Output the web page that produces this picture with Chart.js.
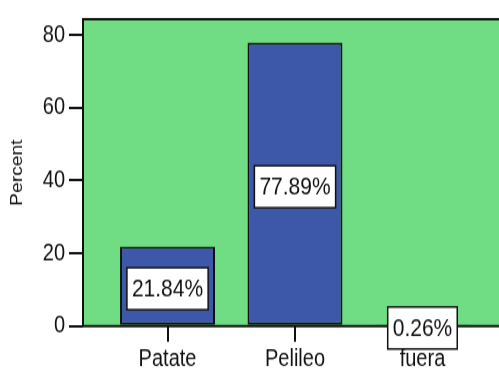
<!DOCTYPE html>
<html>
<head>
<meta charset="utf-8">
<script src="https://cdn.jsdelivr.net/npm/chart.js@4"></script>
<style>
  html { margin: 0; padding: 0; overflow: hidden; background: #ffffff; }
  body { margin: 0; padding: 0; width: 499px; height: 372px; background: #ffffff; }
  /* the chart is laid out 310px tall and shown 1.2x taller */
  #wrap { width: 515px; height: 310px; position: relative; transform: scaleY(1.2); transform-origin: 0 0; }
</style>
</head>
<body>
<div id="wrap"><canvas id="c"></canvas></div>
<script>
// Share of cases by place
const categories = ['Patate', 'Pelileo', 'fuera'];
const percents = [21.84, 77.89, 0.26];
const yTicks = [0, 20, 40, 60, 80];
const yTitle = 'Percent';

const FONT = "'Liberation Sans', Arial, Helvetica, sans-serif";
const PLOT_BG = '#70dc84';
const BAR_FILL = '#3d58a8';
const INK = '#111111';

// green plotting area and its frame
const plotBackground = {
  id: 'plotBackground',
  beforeDraw(chart) {
    const { ctx, chartArea: a } = chart;
    ctx.save();
    ctx.fillStyle = PLOT_BG;
    ctx.fillRect(a.left, a.top, a.right - a.left, a.bottom - a.top);
    ctx.restore();
  },
  beforeDatasetsDraw(chart) {
    const { ctx, chartArea: a } = chart;
    ctx.save();
    ctx.strokeStyle = INK;
    ctx.lineWidth = 2;
    ctx.beginPath();
    ctx.moveTo(a.right + 10, a.top);
    ctx.lineTo(a.left, a.top);
    ctx.lineTo(a.left, a.bottom);
    ctx.lineTo(a.right + 10, a.bottom);
    ctx.stroke();
    ctx.restore();
  }
};

// boxed percentage centred in each bar
const boxedLabels = {
  id: 'boxedLabels',
  afterDatasetsDraw(chart) {
    const { ctx } = chart;
    const meta = chart.getDatasetMeta(0);
    ctx.save();
    ctx.font = '21px ' + FONT;
    ctx.textAlign = 'center';
    ctx.textBaseline = 'middle';
    meta.data.forEach((bar, i) => {
      const text = percents[i].toFixed(2) + '%';
      const w = ctx.measureText(text).width + 10;
      const h = 35;
      const cx = bar.x;
      const cy = (bar.y + bar.base) / 2 + 2.5;
      ctx.fillStyle = '#ffffff';
      ctx.fillRect(cx - w / 2, cy - h / 2, w, h);
      ctx.strokeStyle = INK;
      ctx.lineWidth = 1.5;
      ctx.strokeRect(cx - w / 2, cy - h / 2, w, h);
      ctx.fillStyle = INK;
      ctx.fillText(text, cx, cy + 1);
    });
    ctx.restore();
  }
};

new Chart(document.getElementById('c'), {
  type: 'bar',
  data: {
    datasets: [{
      data: percents.map((v, i) => ({ x: i, y: v })),
      backgroundColor: BAR_FILL,
      borderColor: INK,
      borderWidth: 2,
      borderSkipped: false,
      categoryPercentage: 1,
      barPercentage: 0.745
    }]
  },
  options: {
    responsive: true,
    maintainAspectRatio: false,
    animation: false,
    layout: { padding: { top: 11.7, right: 8, bottom: 0, left: 0 } },
    plugins: { legend: { display: false }, tooltip: { enabled: false } },
    scales: {
      x: {
        type: 'linear',
        offset: false,
        min: -0.663,
        max: 2.663,
        afterBuildTicks(scale) { scale.ticks = categories.map((_, i) => ({ value: i })); },
        afterFit(scale) { scale.height = 38.3; },
        border: { display: false },
        grid: { display: true, offset: false, drawOnChartArea: false, drawTicks: true, tickLength: 13, color: INK, lineWidth: 2 },
        ticks: {
          padding: 3,
          color: INK,
          font: { family: FONT, size: 20 },
          maxRotation: 0,
          callback: (v) => categories[v]
        }
      },
      y: {
        min: 0,
        max: 84.32,
        afterBuildTicks(scale) { scale.ticks = yTicks.map(v => ({ value: v })); },
        afterFit(scale) { scale.width = 83; },
        border: { display: false },
        grid: { display: true, drawOnChartArea: false, drawTicks: true, tickLength: 14, color: INK, lineWidth: 2 },
        ticks: {
          padding: 4,
          color: INK,
          font: { family: FONT, size: 20 }
        },
        title: {
          display: true,
          text: yTitle,
          color: INK,
          font: { family: FONT, size: 16 },
          padding: { top: 8, bottom: 0 }
        }
      }
    }
  },
  plugins: [plotBackground, boxedLabels]
});
</script>
</body>
</html>
